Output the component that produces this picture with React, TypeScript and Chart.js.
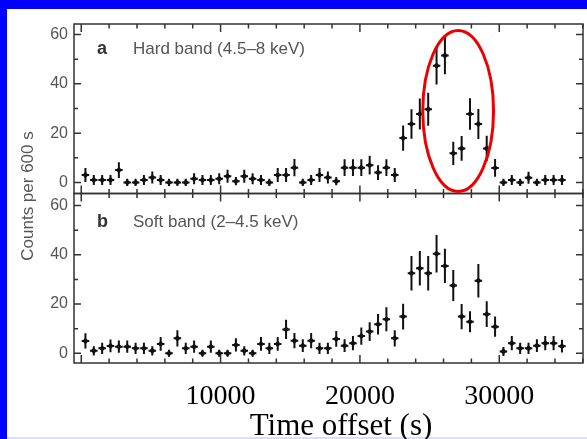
import React, { useEffect, useRef } from 'react';
import { Chart, registerables } from 'chart.js';

Chart.register(...registerables);

// ---- data ----
const binTimes = [
  300, 900, 1500, 2100, 2700, 3300, 3900, 4500, 5100, 5700,
  6300, 6900, 7500, 8100, 8700, 9300, 9900, 10500, 11100, 11700,
  12300, 12900, 13500, 14100, 14700, 15300, 15900, 16500, 17100, 17700,
  18300, 18900, 19500, 20100, 20700, 21300, 21900, 22500, 23100, 23700,
  24300, 24900, 25500, 26100, 26700, 27300, 27900, 28500, 29100, 29700,
  30300, 30900, 31500, 32100, 32700, 33300, 33900, 34500,
];
const hardCounts = [
  3.0, 1.0, 1.0, 1.0, 5.0, 0, 0, 1.0, 2.0, 1.0,
  0, 0, 0, 1.5, 1.0, 1.0, 1.5, 2.5, 0.5, 2.5,
  1.5, 1.0, 0, 3.0, 3.0, 6.0, 0, 1.0, 3.0, 2.0,
  0.5, 6.0, 6.0, 6.0, 7.0, 4.0, 6.0, 3.0, 18.0, 23.7,
  27.8, 29.7, 47.4, 51.5, 11.8, 13.8, 27.8, 23.7, 13.8, 5.9,
  0, 1.0, 0, 1.9, 0, 1.0, 1.0, 1.0,
];
const hardErrors = [
  2.8, 2.0, 2.0, 2.0, 3.2, 1.5, 1.5, 2.0, 2.4, 2.0,
  1.5, 1.5, 1.5, 2.2, 2.0, 2.0, 2.2, 2.6, 1.7, 2.6,
  2.2, 2.0, 1.5, 2.8, 2.8, 3.5, 1.5, 2.0, 2.8, 2.4,
  1.7, 3.4, 3.4, 3.4, 3.8, 3.0, 3.4, 2.8, 5.1, 6.0,
  6.3, 6.7, 7.7, 7.6, 4.7, 5.0, 6.4, 6.1, 5.1, 3.6,
  1.5, 2.0, 1.5, 2.4, 1.5, 2.0, 2.0, 2.0,
];
const softCounts = [
  5.0, 1.0, 2.0, 3.0, 2.7, 2.7, 2.0, 2.0, 1.0, 3.8,
  0, 6.1, 2.0, 2.7, 0, 2.7, 0, 0, 3.4, 1.0,
  0, 3.8, 2.0, 3.8, 9.7, 5.1, 3.1, 5.1, 2.0, 2.0,
  5.8, 3.1, 4.1, 7.0, 8.8, 11.8, 13.8, 6.1, 14.9, 32.5,
  34.5, 32.5, 40.4, 35.5, 27.5, 14.9, 12.8, 29.5, 15.9, 10.8,
  0.7, 4.1, 2.0, 2.0, 3.1, 4.1, 4.1, 2.9,
];
const softErrors = [
  3.1, 1.9, 2.3, 2.6, 2.5, 2.5, 2.3, 2.3, 1.9, 2.8,
  1.4, 3.3, 2.3, 2.5, 1.4, 2.5, 1.4, 1.4, 2.7, 1.9,
  1.4, 2.8, 2.3, 2.8, 3.9, 3.1, 2.6, 3.1, 2.3, 2.3,
  3.2, 2.6, 2.9, 3.5, 3.8, 4.2, 4.9, 3.3, 5.2, 7.0,
  7.0, 7.0, 7.6, 7.0, 6.3, 5.1, 4.3, 6.8, 5.2, 4.1,
  1.8, 2.9, 2.3, 2.3, 2.6, 2.9, 2.9, 2.6,
];
const binHalfWidth = 270;
const xTickValues = [
  0, 2000, 4000, 6000, 8000, 10000, 12000, 14000, 16000, 18000,
  20000, 22000, 24000, 26000, 28000, 30000, 32000, 34000, 36000,
];
const xTickLabels = ['10000', '20000', '30000'];
const yTickValues = [0, 10, 20, 30, 40, 50, 60];
const yTickLabels = ['0', '20', '40', '60'];
const panelLetters = ['a', 'b'];
const panelTitles = ['Hard band (4.5–8 keV)', 'Soft band (2–4.5 keV)'];
const yAxisTitle = 'Counts per 600 s';
const xAxisTitle = 'Time offset (s)';
const highlightCenter = [27050, 29];
const highlightRadii = [2540, 32.7];

const SANS = '"Liberation Sans", Arial, Helvetica, sans-serif';
const SERIF = '"Liberation Serif", "Times New Roman", Times, serif';

export default function App() {
  const ref = useRef<HTMLCanvasElement>(null);

  useEffect(() => {
    const canvas = ref.current as HTMLCanvasElement;
    const pts = (counts: number[]) => binTimes.map((t, i) => ({ x: t, y: counts[i] }));

    const decor = {
      id: 'decor',
      beforeDraw(chart: any) {
        const { ctx, width, height } = chart;
        ctx.save();
        ctx.fillStyle = '#ffffff';
        ctx.fillRect(0, 0, width, height);
        ctx.fillStyle = '#0000ff';
        ctx.fillRect(0, 0, width, 9);
        ctx.fillRect(0, 0, 7, height);
        ctx.fillStyle = '#dcdcff';
        ctx.fillRect(7, height - 2, width - 7, 2);
        ctx.restore();
      },
      beforeDatasetsDraw(chart: any) {
        const ctx = chart.ctx;
        const xs = chart.scales.x;
        const sets = [
          { ys: chart.scales.ya, c: hardCounts, e: hardErrors },
          { ys: chart.scales.yb, c: softCounts, e: softErrors },
        ];
        ctx.save();
        ctx.strokeStyle = '#111';
        ctx.lineWidth = 2;
        for (const s of sets) {
          binTimes.forEach((t, i) => {
            const px = xs.getPixelForValue(t);
            const py = s.ys.getPixelForValue(s.c[i]);
            ctx.beginPath();
            ctx.moveTo(px, s.ys.getPixelForValue(s.c[i] - s.e[i]));
            ctx.lineTo(px, s.ys.getPixelForValue(s.c[i] + s.e[i]));
            ctx.moveTo(xs.getPixelForValue(t - binHalfWidth), py);
            ctx.lineTo(xs.getPixelForValue(t + binHalfWidth), py);
            ctx.stroke();
          });
        }
        ctx.restore();
      },
      afterDraw(chart: any) {
        const ctx = chart.ctx;
        const ca = chart.chartArea;
        const xs = chart.scales.x;
        const panels = [chart.scales.ya, chart.scales.yb];
        ctx.save();
        ctx.strokeStyle = '#333';
        ctx.lineWidth = 1.5;
        panels.forEach((ys: any, k: number) => {
          ctx.strokeRect(ca.left, ys.top, ca.right - ca.left, ys.bottom - ys.top);
          ctx.beginPath();
          ys.ticks.forEach((tk: any) => {
            const p = ys.getPixelForValue(tk.value);
            const len = tk.value % 20 === 0 ? 7 : 4;
            ctx.moveTo(ca.left, p);
            ctx.lineTo(ca.left + len, p);
            ctx.moveTo(ca.right, p);
            ctx.lineTo(ca.right - len, p);
          });
          xs.ticks.forEach((tk: any) => {
            const p = xs.getPixelForValue(tk.value);
            const len = tk.value % 10000 === 0 ? 8 : 4.5;
            ctx.moveTo(p, ys.top);
            ctx.lineTo(p, ys.top + len);
            ctx.moveTo(p, ys.bottom);
            ctx.lineTo(p, ys.bottom - len);
          });
          ctx.stroke();
          // panel labels
          const base = ys.top + (k === 0 ? 30 : 33);
          ctx.fillStyle = '#333';
          ctx.font = 'bold 18px ' + SANS;
          ctx.textAlign = 'left';
          ctx.textBaseline = 'alphabetic';
          ctx.fillText(panelLetters[k], ca.left + 23, base);
          ctx.fillStyle = '#555';
          ctx.font = '17px ' + SANS;
          ctx.fillText(panelTitles[k], ca.left + 59, base);
        });

        // highlight ellipse
        const ya = chart.scales.ya;
        const cx = xs.getPixelForValue(highlightCenter[0]);
        const cy = ya.getPixelForValue(highlightCenter[1]);
        const rx = Math.abs(xs.getPixelForValue(highlightCenter[0] + highlightRadii[0]) - cx);
        const ry = Math.abs(ya.getPixelForValue(highlightCenter[1] + highlightRadii[1]) - cy);
        ctx.strokeStyle = '#ee0000';
        ctx.lineWidth = 3;
        ctx.beginPath();
        ctx.ellipse(cx, cy, rx, ry, 0, 0, Math.PI * 2);
        ctx.stroke();

        // y axis title
        ctx.save();
        ctx.translate(33, 196);
        ctx.rotate(-Math.PI / 2);
        ctx.fillStyle = '#555';
        ctx.font = '17px ' + SANS;
        ctx.textAlign = 'center';
        ctx.textBaseline = 'alphabetic';
        ctx.fillText(yAxisTitle, 0, 0);
        ctx.restore();

        // x axis title
        ctx.fillStyle = '#000';
        ctx.font = '31px ' + SERIF;
        ctx.textAlign = 'center';
        ctx.textBaseline = 'alphabetic';
        ctx.fillText(xAxisTitle, 341, 434.5);
        ctx.restore();
      },
    };

    const yAxis = (min: number, max: number, weight: number) => ({
      type: 'linear',
      position: 'left',
      stack: 'panels',
      stackWeight: 1,
      weight,
      min,
      max,
      grid: { display: false, drawTicks: false },
      border: { display: false },
      afterBuildTicks: (s: any) => {
        s.ticks = yTickValues.map((v) => ({ value: v }));
      },
      ticks: {
        autoSkip: false,
        padding: 6,
        color: '#555',
        font: { family: SANS, size: 16 },
        callback: (v: any) => {
          const n = Math.round(Number(v));
          return yTickLabels.includes(String(n)) ? String(n) : '';
        },
      },
      afterFit: (s: any) => {
        s.width = 67;
      },
    });

    const chart = new Chart(canvas, {
      type: 'scatter',
      data: {
        datasets: [
          {
            data: pts(hardCounts),
            yAxisID: 'ya',
            xAxisID: 'x',
            pointStyle: 'rectRot',
            pointRadius: 3.2,
            backgroundColor: '#111',
            borderColor: '#111',
            borderWidth: 0,
          },
          {
            data: pts(softCounts),
            yAxisID: 'yb',
            xAxisID: 'x',
            pointStyle: 'rectRot',
            pointRadius: 3.2,
            backgroundColor: '#111',
            borderColor: '#111',
            borderWidth: 0,
          },
        ],
      },
      options: {
        animation: false,
        responsive: false,
        devicePixelRatio: 1,
        layout: { padding: { left: 7, top: 24, right: 4, bottom: 0 } },
        plugins: { legend: { display: false }, tooltip: { enabled: false } },
        events: [],
        scales: {
          x: {
            type: 'linear',
            position: 'bottom',
            min: -520,
            max: 36010,
            grid: { display: false, drawTicks: true, tickLength: 17 },
            border: { display: false },
            afterBuildTicks: (s: any) => {
              s.ticks = xTickValues.map((v) => ({ value: v }));
            },
            ticks: {
              autoSkip: false,
              maxRotation: 0,
              minRotation: 0,
              padding: 0,
              color: '#000',
              font: { family: SERIF, size: 28 },
              callback: (v: any) => {
                const n = Math.round(Number(v));
                return xTickLabels.includes(String(n)) ? String(n) : '';
              },
            },
            afterFit: (s: any) => {
              s.height = 76;
            },
          },
          yb: yAxis(-3.95, 64.9, 0),
          ya: yAxis(-4.5, 64.3, 1),
        } as any,
      },
      plugins: [decor],
    } as any);

    return () => chart.destroy();
  }, []);

  return (
    <div style={{ position: 'fixed', left: 0, top: 0, width: 587, height: 439 }}>
      <canvas ref={ref} width={587} height={439} style={{ display: 'block', width: 587, height: 439 }} />
    </div>
  );
}
